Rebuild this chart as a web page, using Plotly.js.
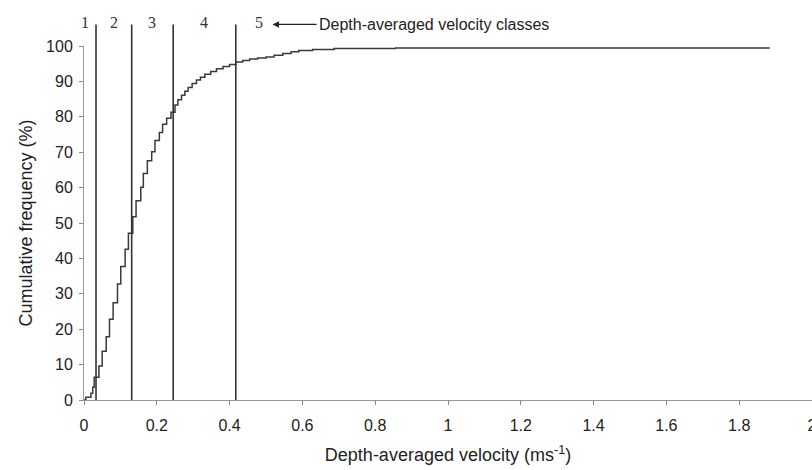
<!DOCTYPE html>
<html>
<head>
<meta charset="utf-8">
<script src="https://cdn.plot.ly/plotly-3.0.1.min.js"></script>
<style>html,body{margin:0;padding:0;background:#fff;}#chart{width:812px;height:470px;}</style>
</head>
<body>
<div id="chart"></div>
<script>
// Step (cumulative frequency) data
var velocity = [0, 0.005, 0.019, 0.024, 0.028, 0.041, 0.05, 0.061, 0.07, 0.08, 0.092, 0.101, 0.113, 0.122, 0.134, 0.143, 0.156, 0.163, 0.174, 0.186, 0.195, 0.207, 0.216, 0.227, 0.239, 0.25, 0.258, 0.268, 0.277, 0.286, 0.297, 0.309, 0.32, 0.332, 0.348, 0.364, 0.382, 0.4, 0.417, 0.436, 0.455, 0.477, 0.5, 0.522, 0.546, 0.569, 0.59, 0.628, 0.687, 0.856, 1.884];
var cumFreq = [0, 0.8, 1.9, 3.6, 6.4, 9.6, 13.8, 17.9, 22.8, 27.5, 32.8, 37.7, 42.6, 47.1, 51.8, 56.3, 60.1, 64.0, 67.6, 70.1, 73.3, 75.6, 77.9, 79.6, 81.3, 83.3, 84.8, 86.1, 87.2, 88.3, 89.4, 90.4, 91.2, 92.0, 92.8, 93.6, 94.2, 94.8, 95.5, 95.9, 96.3, 96.6, 96.9, 97.4, 97.9, 98.4, 98.7, 99.0, 99.3, 99.4, 99.4];

// Class boundaries (depth-averaged velocity classes)
var classBounds = [0.033, 0.131, 0.245, 0.417];
var classLabels = ["1", "2", "3", "4", "5"];

var xTickVals = [0, 0.2, 0.4, 0.6, 0.8, 1, 1.2, 1.4, 1.6, 1.8, 2];
var xTickText = ["0", "0.2", "0.4", "0.6", "0.8", "1", "1.2", "1.4", "1.6", "1.8", "2"];
var yTickVals = [0, 10, 20, 30, 40, 50, 60, 70, 80, 90, 100];

var trace = {
  x: velocity,
  y: cumFreq,
  type: 'scatter',
  mode: 'lines',
  line: {shape: 'hv', color: '#3a3a3a', width: 1.5},
  hoverinfo: 'x+y',
  showlegend: false
};

var shapes = classBounds.map(function (b) {
  return {type: 'line', xref: 'x', yref: 'paper', x0: b, x1: b, y0: 0, y1: 1.061,
          line: {color: '#333', width: 1.6}};
});

// label positions: between boundaries
var edges = [0].concat(classBounds);
var annotations = classLabels.map(function (t, i) {
  var xpos;
  if (i === 0) xpos = edges[1] * 0.12;
  else if (i < classBounds.length) xpos = (edges[i] + edges[i + 1]) / 2;
  else xpos = edges[i] + 0.065;
  return {x: xpos, y: 1.066, xref: 'x', yref: 'paper', text: t, showarrow: false,
          font: {family: 'Liberation Serif, Times New Roman, serif', size: 16, color: '#333'},
          xanchor: 'center', yanchor: 'middle'};
});
annotations.push({
  x: 0.518, y: 1.061, xref: 'x', yref: 'paper',
  text: 'Depth-averaged velocity classes',
  showarrow: true, arrowhead: 2, arrowsize: 1, arrowwidth: 1.3, arrowcolor: '#222',
  ax: 44, ay: 0, xanchor: 'left', yanchor: 'middle',
  font: {family: 'Liberation Sans, Arial, sans-serif', size: 16, color: '#222'}
});

var layout = {
  width: 812, height: 470,
  margin: {l: 84, r: 0, t: 46, b: 70, pad: 0},
  paper_bgcolor: '#fff', plot_bgcolor: '#fff',
  font: {family: 'Liberation Sans, Arial, sans-serif', size: 16, color: '#222'},
  xaxis: {
    range: [0, 2], tickvals: xTickVals, ticktext: xTickText,
    showgrid: false, zeroline: false, showline: true, linecolor: '#999', linewidth: 1,
    ticks: 'outside', ticklen: 4, tickcolor: '#888', tickfont: {size: 16, color: '#222'},
    ticklabelstandoff: 7, ticklabeloverflow: 'allow',
    title: {text: 'Depth-averaged velocity (ms<sup>-1</sup>)', font: {size: 18, color: '#222'}, standoff: 15}
  },
  yaxis: {
    range: [0, 100], tickvals: yTickVals,
    showgrid: false, zeroline: false, showline: true, linecolor: '#999', linewidth: 1,
    ticks: 'outside', ticklen: 4, tickcolor: '#888', tickfont: {size: 16, color: '#222'},
    ticklabelstandoff: 3,
    title: {text: 'Cumulative frequency (%)', font: {size: 18, color: '#222'}, standoff: 8}
  },
  shapes: shapes,
  annotations: annotations
};

Plotly.newPlot('chart', [trace], layout, {displayModeBar: false, staticPlot: true});
</script>
</body>
</html>
